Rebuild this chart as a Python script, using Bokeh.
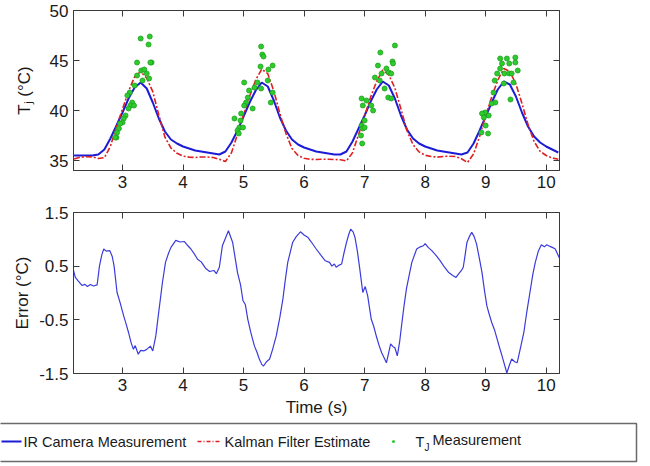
import numpy as np
from bokeh.plotting import figure
from bokeh.layouts import column
from bokeh.models import Range1d, FixedTicker, LinearAxis, Label
from bokeh.embed import file_html
from bokeh.resources import INLINE

FONT = "Liberation Sans"

# ---------------- data ----------------
time_s = np.round(np.arange(2.2, 10.25, 0.1), 1)

ir_camera = [35.5, 35.5, 35.5, 35.5, 35.6, 36.1, 37.2, 38.5, 39.8, 41.2,
             42.3, 42.8, 42.2, 40.8, 39.2, 37.9, 37.1, 36.7, 36.4, 36.2,
             36.0, 35.9, 35.8, 35.7, 35.6, 35.9, 36.8, 38.0, 39.4, 40.8,
             42.0, 42.8, 42.4, 41.0, 39.3, 38.0, 37.1, 36.6, 36.3, 36.1,
             35.9, 35.8, 35.7, 35.6, 35.6, 35.9, 36.9, 38.2, 39.5, 40.9,
             42.1, 42.9, 42.5, 41.2, 39.5, 38.1, 37.2, 36.7, 36.4, 36.2,
             36.0, 35.9, 35.8, 35.7, 35.6, 35.8, 36.7, 38.0, 39.4, 40.8,
             42.1, 42.9, 42.6, 41.4, 39.8, 38.4, 37.4, 36.8, 36.4, 36.1,
             35.8]

kalman = [35.15, 35.33, 35.37, 35.36, 35.2, 35.28, 36.42, 38.4, 40.15, 41.94,
          43.38, 43.9, 43.23, 41.88, 39.55, 37.35, 36.25, 35.72, 35.44, 35.34,
          35.3, 35.35, 35.35, 35.3, 35.12, 34.9, 35.78, 37.62, 39.58, 41.42,
          43.05, 44.13, 43.68, 41.95, 39.7, 37.7, 36.2, 35.5, 35.22, 35.12,
          35.1, 35.12, 35.12, 35.1, 35.08, 34.96, 35.78, 37.6, 39.45, 41.35,
          42.94, 44.05, 43.55, 42.25, 40.15, 37.98, 36.58, 35.86, 35.52, 35.4,
          35.34, 35.4, 35.43, 35.4, 35.18, 34.8, 35.65, 37.4, 39.5, 41.35,
          43.03, 44.2, 43.9, 42.65, 40.7, 38.6, 36.9, 35.92, 35.5, 35.25,
          35.12]

tj_time = [3.30, 3.45, 3.43, 3.24, 3.48, 3.31, 3.36, 3.24, 3.40, 3.44, 3.33, 3.20,
           3.12, 3.08, 3.16, 3.13, 3.10, 3.05, 3.02, 3.00, 2.96, 2.94, 2.91, 2.90,
           3.46, 3.19, 2.88,
           5.29, 5.31, 5.33, 5.28, 5.48, 5.41, 5.01, 5.23, 5.18, 5.29, 5.40, 5.09,
           5.48, 5.07, 5.04, 5.01, 5.15, 5.45, 4.96, 4.95, 4.93, 4.99, 4.90, 4.85,
           4.92,
           7.50, 7.26, 7.46, 7.47, 7.22, 7.36, 7.40, 7.44, 7.28, 7.17, 7.25, 7.33,
           7.39, 7.44, 6.95, 7.03, 6.97, 7.11, 7.14, 7.00, 6.95, 6.97, 7.00, 6.94,
           6.96,
           9.24, 9.35, 9.49, 9.27, 9.39, 9.49, 9.53, 9.24, 9.19, 9.31, 9.39, 9.43,
           9.15, 9.46, 9.30, 9.13, 9.16, 9.10, 9.41, 8.99, 8.94, 9.05, 8.97, 9.00,
           8.93, 9.04]
tj_meas = [47.2, 47.4, 46.6, 44.8, 44.8, 44.0, 44.1, 43.5, 43.7, 43.2, 43.0, 42.5,
           41.8, 41.5, 40.8, 40.5, 40.2, 39.5, 39.2, 38.8, 38.7, 38.2, 37.8, 37.3,
           44.8, 40.5, 37.3,
           46.4, 45.6, 45.4, 44.4, 44.5, 44.1, 42.8, 42.8, 42.3, 42.2, 43.0, 42.0,
           41.8, 41.3, 40.8, 40.5, 40.2, 40.8, 39.7, 39.0, 38.3, 38.3, 38.0, 39.2,
           37.7,
           46.5, 45.8, 44.9, 44.7, 44.5, 44.2, 43.8, 43.7, 43.7, 43.3, 43.0, 42.2,
           41.3, 41.2, 41.2, 41.0, 40.5, 40.5, 40.0, 39.0, 38.5, 38.2, 38.3, 37.5,
           36.7,
           45.2, 45.2, 45.3, 44.7, 44.7, 44.8, 44.0, 44.2, 43.7, 43.7, 43.7, 43.7,
           43.0, 42.8, 42.7, 41.8, 40.8, 40.7, 41.1, 39.8, 39.7, 39.5, 39.3, 38.5,
           37.8, 37.7]

err_time = [2.19, 2.22, 2.27, 2.33, 2.38, 2.42, 2.47, 2.52, 2.58, 2.62, 2.66, 2.69,
            2.73, 2.79, 2.83, 2.86, 2.91, 2.96, 3.02, 3.06, 3.10, 3.14, 3.18, 3.21,
            3.26, 3.30, 3.35, 3.40, 3.46, 3.50, 3.55, 3.59, 3.66, 3.71, 3.76, 3.80,
            3.88, 3.95, 4.02, 4.08, 4.13, 4.18, 4.24, 4.30, 4.38, 4.44, 4.51, 4.55,
            4.60, 4.65, 4.70, 4.75, 4.82, 4.86, 4.90, 4.95, 4.99, 5.03, 5.07, 5.12,
            5.18, 5.22, 5.26, 5.30, 5.33, 5.38, 5.43, 5.48, 5.54, 5.60, 5.65, 5.69,
            5.73, 5.81, 5.87, 5.94, 6.00, 6.06, 6.12, 6.20, 6.28, 6.35, 6.42, 6.46,
            6.50, 6.53, 6.58, 6.62, 6.66, 6.70, 6.74, 6.77, 6.81, 6.84, 6.88, 6.92,
            6.97, 7.01, 7.05, 7.11, 7.15, 7.20, 7.24, 7.28, 7.32, 7.36, 7.40, 7.43,
            7.47, 7.50, 7.54, 7.58, 7.61, 7.65, 7.69, 7.74, 7.78, 7.86, 7.92, 7.97,
            8.00, 8.05, 8.11, 8.18, 8.25, 8.32, 8.39, 8.45, 8.51, 8.55, 8.60, 8.63,
            8.66, 8.69, 8.73, 8.77, 8.81, 8.85, 8.90, 8.94, 8.98, 9.02, 9.06, 9.10,
            9.15, 9.19, 9.23, 9.27, 9.31, 9.35, 9.39, 9.43, 9.48, 9.52, 9.57, 9.63,
            9.68, 9.74, 9.78, 9.82, 9.87, 9.92, 9.97, 10.01, 10.04, 10.08, 10.12,
            10.15, 10.19, 10.23]
err_val = [0.42, 0.29, 0.22, 0.14, 0.16, 0.12, 0.16, 0.13, 0.15, 0.51, 0.72, 0.82,
           0.78, 0.79, 0.68, 0.51, 0.01, -0.18, -0.43, -0.58, -0.74, -0.92, -1.05, -0.98,
           -1.14, -1.07, -1.08, -1.05, -0.99, -1.08, -0.80, -0.43, 0.20, 0.57, 0.74, 0.85,
           0.98, 0.95, 0.96, 0.88, 0.82, 0.74, 0.63, 0.58, 0.45, 0.40, 0.42, 0.36,
           0.48, 0.88, 1.02, 1.16, 0.94, 0.66, 0.38, 0.15, -0.14, -0.22, -0.49, -0.74,
           -0.99, -1.10, -1.23, -1.33, -1.36, -1.28, -1.23, -1.05, -0.80, -0.45, -0.11, 0.25,
           0.57, 0.94, 1.05, 1.14, 1.08, 1.04, 0.95, 0.82, 0.70, 0.60, 0.57, 0.50,
           0.54, 0.48, 0.52, 0.54, 0.75, 0.94, 1.10, 1.19, 1.14, 1.04, 0.78, 0.45,
           0.01, 0.12, -0.05, -0.49, -0.62, -0.83, -0.98, -1.11, -1.20, -1.30, -1.10, -0.95,
           -1.00, -1.02, -1.17, -0.90, -0.61, -0.25, 0.07, 0.35, 0.57, 0.82, 0.86, 0.88,
           0.92, 0.85, 0.79, 0.70, 0.60, 0.48, 0.38, 0.33, 0.29, 0.35, 0.42, 0.48,
           0.70, 0.94, 1.05, 1.13, 1.05, 0.91, 0.62, 0.38, 0.05, -0.24, -0.40, -0.55,
           -0.70, -0.86, -1.02, -1.17, -1.33, -1.49, -1.35, -1.23, -1.28, -1.30, -1.05, -0.74,
           -0.35, 0.07, 0.35, 0.57, 0.78, 0.90, 0.86, 0.90, 0.88, 0.86, 0.84,
           0.82, 0.72, 0.63]

x_ticks = [3, 4, 5, 6, 7, 8, 9, 10]
top_y_ticks = [35, 40, 45, 50]
err_y_ticks = [-1.5, -0.5, 0.5, 1.5]
err_y_labels = ["-1.5", "-0.5", "0.5", "1.5"]

BLUE = "#1c1cd6"
RED = "#e02020"
GREEN = "#2ccc2c"
AXC = "#3a3a3a"
TXT = "#1a1a1a"


def style_axis(ax, ticks, labels=True):
    ax.ticker = FixedTicker(ticks=ticks)
    ax.major_tick_in = 6
    ax.major_tick_out = 0
    ax.major_tick_line_width = 1
    ax.minor_tick_line_color = None
    ax.axis_line_color = AXC
    ax.major_tick_line_color = AXC
    ax.major_label_standoff = 5
    if labels:
        ax.major_label_text_font = FONT
        ax.major_label_text_font_size = "17px"
        ax.major_label_text_color = TXT
    else:
        ax.major_label_text_font_size = "0px"
        ax.major_label_text_color = None


def style_label(ax, text, standoff):
    ax.axis_label = text
    ax.axis_label_text_font = FONT
    ax.axis_label_text_font_size = "17px"
    ax.axis_label_text_font_style = "normal"
    ax.axis_label_text_color = TXT
    ax.axis_label_standoff = standoff


XR = (2.19, 10.22)

# ---------------- top panel ----------------
p1 = figure(width=650, height=200, x_range=Range1d(*XR), y_range=Range1d(34, 50),
            output_backend="svg", toolbar_location=None,
            min_border_left=73, min_border_right=91, min_border_top=10, min_border_bottom=30)
p1.grid.visible = False
p1.outline_line_color = AXC
style_axis(p1.xaxis[0], x_ticks)
style_axis(p1.yaxis[0], top_y_ticks)
style_label(p1.yaxis[0], "T\u2c7c (°C)", 13)
ax_r = LinearAxis(); style_axis(ax_r, top_y_ticks, labels=False); p1.add_layout(ax_r, "right")
ax_t = LinearAxis(); style_axis(ax_t, x_ticks, labels=False); p1.add_layout(ax_t, "above")

p1.line(time_s, ir_camera, line_color=BLUE, line_width=2)
p1.line(time_s, kalman, line_color=RED, line_width=1.6, line_dash="6 2 2 2")
p1.scatter(tj_time, tj_meas, marker="circle", size=5, fill_color=GREEN,
           line_color="#1f9f1f", line_width=0.8)

# ---------------- bottom panel ----------------
p2 = figure(width=650, height=219, x_range=Range1d(*XR), y_range=Range1d(-1.5, 1.5),
            output_backend="svg", toolbar_location=None,
            min_border_left=73, min_border_right=91, min_border_top=12, min_border_bottom=46)
p2.grid.visible = False
p2.outline_line_color = AXC
style_axis(p2.xaxis[0], x_ticks)
style_axis(p2.yaxis[0], err_y_ticks)
p2.yaxis[0].major_label_overrides = dict(zip(err_y_ticks, err_y_labels))
style_label(p2.xaxis[0], "Time (s)", 4)
style_label(p2.yaxis[0], "Error (°C)", 4)
ax_r2 = LinearAxis(); style_axis(ax_r2, err_y_ticks, labels=False); p2.add_layout(ax_r2, "right")
ax_t2 = LinearAxis(); style_axis(ax_t2, x_ticks, labels=False); p2.add_layout(ax_t2, "above")

p2.line(err_time, err_val, line_color="#3b3bdc", line_width=1.2)

# ---------------- legend strip (pixel-like coordinates, y downwards) ----------------
pl = figure(width=650, height=47, x_range=Range1d(0, 650), y_range=Range1d(47, 0),
            output_backend="svg", toolbar_location=None,
            x_axis_location=None, y_axis_location=None,
            min_border_left=0, min_border_right=0, min_border_top=0, min_border_bottom=0)
if "frame_align" in pl.properties():
    pl.frame_align = False
pl.grid.visible = False
pl.outline_line_color = None
pl.quad(left=[-2], right=[636], top=[4], bottom=[42], fill_color="white",
        line_color="#6a6a6a", line_width=1.5)
pl.line([1, 21], [22, 22], line_color=BLUE, line_width=2)
pl.line([197, 221], [22, 22], line_color=RED, line_width=1.4, line_dash="4 2 1 2")
pl.scatter([393], [22], marker="circle", size=3, fill_color=GREEN, line_color=None)
lg = dict(text_font=FONT, text_color=TXT, text_baseline="middle", text_align="left")
pl.add_layout(Label(x=23, y=22, text="IR Camera Measurement", text_font_size="14.5px", **lg))
pl.add_layout(Label(x=224, y=22, text="Kalman Filter Estimate", text_font_size="14.5px", **lg))
pl.add_layout(Label(x=415, y=22, text="T", text_font_size="14.5px", **lg))
pl.add_layout(Label(x=424, y=28, text="J", text_font_size="10px", **lg))
pl.add_layout(Label(x=432, y=20, text="Measurement", text_font_size="14.5px", **lg))

layout = column(p1, p2, pl, spacing=0)
open("out.html", "w").write(file_html(layout, INLINE))
